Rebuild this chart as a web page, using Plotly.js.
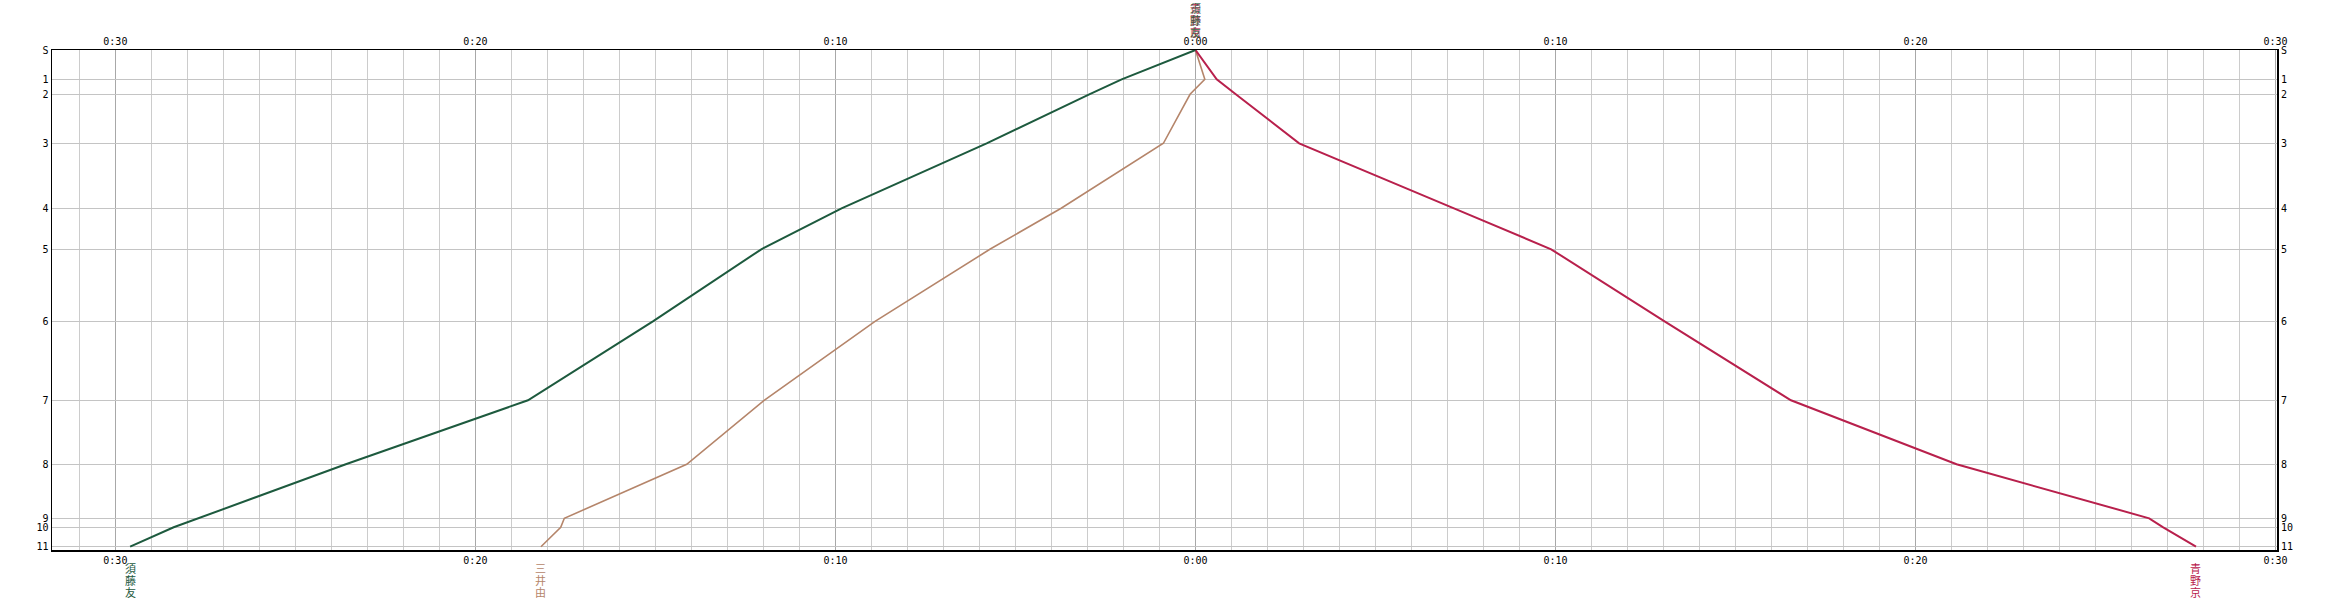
<!DOCTYPE html>
<html>
<head>
<meta charset="utf-8">
<script src="https://cdn.plot.ly/plotly-3.0.1.min.js"></script>
<style>html,body{margin:0;padding:0;background:#fff;}#chart{width:2329px;height:600px;}</style>
</head>
<body>
<div id="chart"></div>
<script>
// Stations (label, cumulative distance position)
const stationLabels = ["S","1","2","3","4","5","6","7","8","9","10","11"];
const stationPos = [0, 29.3, 44.3, 93.3, 158.3, 199.3, 271.3, 350.3, 414.3, 468.3, 477.3, 496.7];

// Time ticks (minutes relative to 0:00; left side negative)
const timeTickVals = [-30, -20, -10, 0, 10, 20, 30];
const timeTickText = ["0:30", "0:20", "0:10", "0:00", "0:10", "0:20", "0:30"];

// Trains: names and times (minutes) at each station S..11
const trainNames = ["三井由", "青野京", "須藤友"];
const trainColors = ["#b5856a", "#b8204c", "#1d5a3e"];
const timesMitsui = [0, 0.26, -0.15, -0.89, -3.73, -5.71, -8.90, -11.98, -14.13, -17.53, -17.63, -18.18];
const timesAono   = [0, 0.59, 1.12, 2.88, 7.18, 9.88, 13.03, 16.54, 21.14, 26.49, 26.88, 27.79];
const timesSudo   = [0, -2.05, -2.95, -5.8, -9.83, -12.06, -15.07, -18.54, -23.60, -27.70, -28.38, -29.59];
const trainTimes = [timesMitsui, timesAono, timesSudo];
const lineWidths = [1.6, 2, 2];

const xRange = [-31.76, 30.04];
const yRange = [500, 0];

const traces = trainTimes.map((t, i) => ({
  x: t, y: stationPos, mode: 'lines', type: 'scatter',
  line: {color: trainColors[i], width: lineWidths[i]},
  hoverinfo: 'skip', showlegend: false
}));
// invisible trace to activate secondary axes
traces.push({x: [0], y: [0], xaxis: 'x2', yaxis: 'y2', mode: 'markers',
  marker: {opacity: 0}, hoverinfo: 'skip', showlegend: false});

const tickFont = {family: 'DejaVu Sans Mono', size: 10, color: '#000'};

// plot spans 50..550 px vertically
const pxToPaper = p => (550 - p) / 500;
const bottomCharCenters = [568, 580, 592];
const topCharCenters = [8, 20, 32];

const annotations = [];
trainNames.forEach((name, i) => {
  const t = trainTimes[i];
  const chars = name.split('');
  chars.forEach((ch, k) => {
    annotations.push({
      x: t[t.length - 1], y: pxToPaper(bottomCharCenters[k]), xref: 'x', yref: 'paper',
      xanchor: 'center', yanchor: 'middle', showarrow: false,
      text: ch, font: {family: 'Noto Sans CJK JP', size: 11, color: trainColors[i]}
    });
    annotations.push({
      x: t[0], y: pxToPaper(topCharCenters[k]), xref: 'x', yref: 'paper',
      xanchor: 'center', yanchor: 'middle', showarrow: false,
      text: ch, font: {family: 'Noto Sans CJK JP', size: 11, color: trainColors[i]},
      opacity: 0.8
    });
  });
});

const layout = {
  width: 2329, height: 600,
  margin: {l: 52, r: 52, t: 50, b: 50, pad: 0},
  paper_bgcolor: '#fff', plot_bgcolor: '#fff',
  showlegend: false,
  xaxis: {
    range: xRange, tickvals: timeTickVals, ticktext: timeTickText,
    showgrid: true, gridcolor: '#a8a8a8', gridwidth: 1,
    minor: {dtick: 1, tick0: 0, showgrid: true, gridcolor: '#cccccc', gridwidth: 1, ticks: ''},
    zeroline: false, showline: true, linecolor: '#000', linewidth: 1.5, mirror: false,
    ticks: '', tickfont: tickFont, ticklen: 0, side: 'bottom', anchor: 'y',
    fixedrange: true
  },
  xaxis2: {
    range: xRange, tickvals: timeTickVals, ticktext: timeTickText,
    overlaying: 'x', side: 'top', anchor: 'y', showgrid: false, zeroline: false,
    showline: true, linecolor: '#000', linewidth: 1.5, ticks: '', tickfont: tickFont
  },
  yaxis: {
    range: yRange, tickvals: stationPos, ticktext: stationLabels,
    showgrid: true, gridcolor: '#c4c4c4', gridwidth: 1,
    zeroline: false, showline: true, linecolor: '#000', linewidth: 1.5,
    ticks: '', tickfont: tickFont, side: 'left', anchor: 'x'
  },
  yaxis2: {
    range: yRange, tickvals: stationPos, ticktext: stationLabels,
    overlaying: 'y', side: 'right', anchor: 'x', showgrid: false, zeroline: false,
    showline: true, linecolor: '#000', linewidth: 2, ticks: '', tickfont: tickFont
  },
  annotations: annotations
};

Plotly.newPlot('chart', traces, layout, {displayModeBar: false, staticPlot: true});
</script>
</body>
</html>
